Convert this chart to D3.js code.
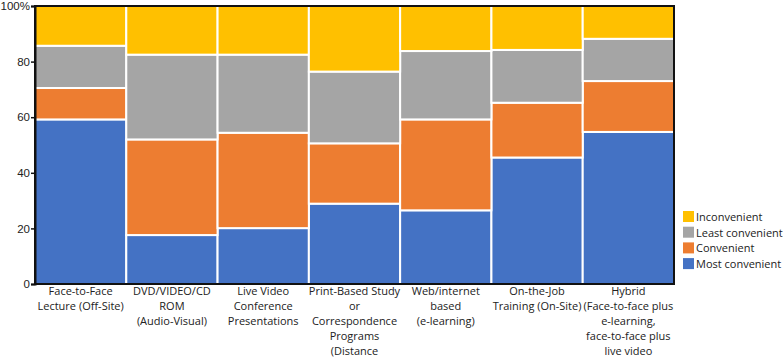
<!DOCTYPE html>
<html>
<head>
<meta charset="utf-8">
<script src="https://cdn.jsdelivr.net/npm/d3@7"></script>
<style>
  body { margin: 0; background: #fff; }
  svg { display: block; font-family: "Open Sans", "Noto Sans", sans-serif; }
</style>
</head>
<body>
<svg id="chart"></svg>
<script>
// ---- data ----
const categories = [
    ["Face-to-Face", "Lecture (Off-Site)"],
    ["DVD/VIDEO/CD", "ROM", "(Audio-Visual)"],
    ["Live Video", "Conference", "Presentations"],
    ["Print-Based Study", "or", "Correspondence", "Programs", "(Distance"],
    ["Web/internet", "based", "(e-learning)"],
    ["On-the-Job", "Training (On-Site)"],
    ["Hybrid", "(Face-to-face plus", "e-learning,", "face-to-face plus", "live video"]
];
const seriesNames = ["Most convenient", "Convenient", "Least convenient", "Inconvenient"];
const mostConvenient  = [59.2, 17.6, 20.1, 28.9, 26.5, 45.5, 54.7];
const convenient      = [11.3, 34.4, 34.3, 21.7, 32.7, 19.7, 18.3];
const leastConvenient = [15.2, 30.5, 28.1, 25.8, 24.6, 19.0, 15.2];
const inconvenient    = [14.3, 17.5, 17.5, 23.6, 16.2, 15.8, 11.8];
const yTicks = [0, 20, 40, 60, 80, 100];
const colors = ["#4472C4", "#ED7D31", "#A5A5A5", "#FFC000"];

// ---- setup ----
const width = 784, height = 360;
const margin = { top: 6, right: 110, bottom: 76, left: 35 };
const innerWidth = width - margin.left - margin.right;
const innerHeight = height - margin.top - margin.bottom;

const svg = d3.select("#chart").attr("width", width).attr("height", height);
const g = svg.append("g").attr("transform", `translate(${margin.left},${margin.top})`);

const rows = categories.map((c, i) => ({
    idx: i,
    s0: mostConvenient[i], s1: convenient[i], s2: leastConvenient[i], s3: inconvenient[i]
}));
const stack = d3.stack().keys(["s0", "s1", "s2", "s3"]);
const stacked = stack(rows);

const x = d3.scaleBand().domain(d3.range(categories.length)).range([0, innerWidth]).padding(0);
const y = d3.scaleLinear().domain([0, 100]).range([innerHeight, 0]);

// ---- bars ----
g.selectAll("g.layer")
    .data(stacked)
    .join("g")
    .attr("class", "layer")
    .attr("fill", (d, i) => colors[i])
    .selectAll("rect")
    .data(d => d)
    .join("rect")
    .attr("x", d => x(d.data.idx))
    .attr("y", d => y(d[1]))
    .attr("width", x.bandwidth())
    .attr("height", d => y(d[0]) - y(d[1]))
    .attr("stroke", "#fff")
    .attr("stroke-width", 2);

// frame
g.append("rect")
    .attr("width", innerWidth)
    .attr("height", innerHeight)
    .attr("fill", "none")
    .attr("stroke", "#111")
    .attr("stroke-width", 2);

// ---- y axis ----
const yAxis = g.append("g")
    .call(d3.axisLeft(y).tickValues(yTicks).tickSize(4).tickFormat(d => d === 100 ? "100%" : d));
yAxis.select(".domain").attr("stroke", "#111").attr("stroke-width", 2);
yAxis.selectAll(".tick line").attr("stroke", "#111").attr("stroke-width", 1.5);
yAxis.selectAll(".tick text").attr("font-size", "11.5px").attr("fill", "#222").attr("x", -5);

// ---- x labels ----
const lbl = g.append("g").attr("transform", `translate(0,${innerHeight})`);
lbl.selectAll("text")
    .data(categories)
    .join("text")
    .attr("text-anchor", "middle")
    .attr("font-size", "11px")
    .attr("fill", "#222")
    .each(function (lines, i) {
        d3.select(this).selectAll("tspan")
            .data(lines)
            .join("tspan")
            .attr("x", x(i) + x.bandwidth() / 2)
            .attr("y", (d, j) => 11 + j * 15)
            .text(d => d);
    });

// ---- legend ----
const legend = svg.append("g").attr("transform", `translate(683, 211)`);
const legendOrder = [3, 2, 1, 0];
const item = legend.selectAll("g")
    .data(legendOrder)
    .join("g")
    .attr("transform", (d, i) => `translate(0,${i * 15.7})`);
item.append("rect")
    .attr("width", 11)
    .attr("height", 11)
    .attr("fill", d => colors[d]);
item.append("text")
    .attr("x", 13)
    .attr("y", 6)
    .attr("dy", "0.35em")
    .attr("font-size", "11px")
    .attr("fill", "#222")
    .text(d => seriesNames[d]);
</script>
</body>
</html>
